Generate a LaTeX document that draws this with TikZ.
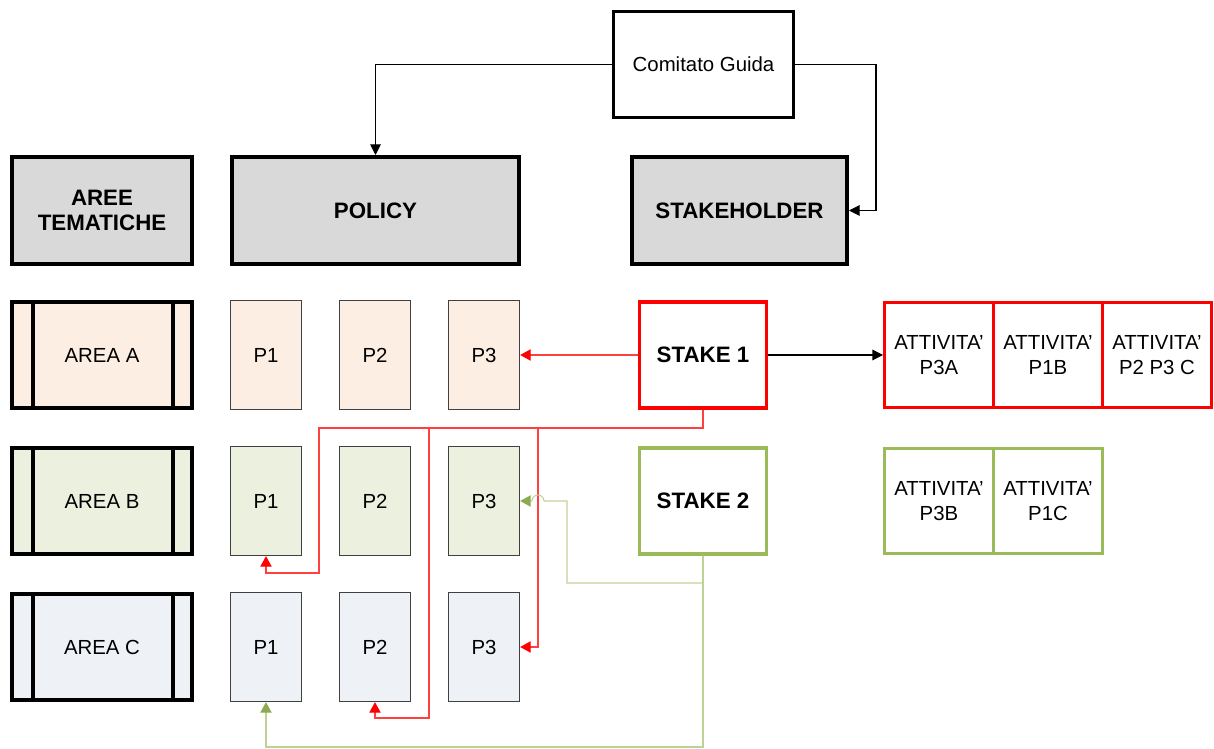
\documentclass[tikz,border=0pt]{standalone}
\usepackage{fontspec}
\setmainfont{Liberation Sans}
\usetikzlibrary{arrows.meta}

\definecolor{headgray}{RGB}{217,217,217}
\definecolor{fillA}{RGB}{253,238,227}
\definecolor{fillB}{RGB}{235,240,223}
\definecolor{fillC}{RGB}{238,242,247}
\definecolor{stakered}{RGB}{255,0,0}
\definecolor{stakegreen}{RGB}{155,187,89}
\definecolor{linegreen}{RGB}{190,210,150}
\definecolor{tipgreen}{RGB}{140,170,80}

\tikzset{
  txt/.style={font=\fontsize{11.6}{14}\selectfont, align=center},
  boldtxt/.style={font=\bfseries\fontsize{12.7}{14.2}\selectfont, align=center},
  headbox/.style={draw, line width=2.3pt, fill=headgray, minimum height=2.14cm, boldtxt},
  areabox/.style={draw, line width=2.3pt, fill=#1, minimum width=3.6cm, minimum height=2.12cm, txt,
    path picture={
      \draw[line width=2.3pt] ([xshift=0.42cm]path picture bounding box.north west) -- ([xshift=0.42cm]path picture bounding box.south west);
      \draw[line width=2.3pt] ([xshift=-0.38cm]path picture bounding box.north east) -- ([xshift=-0.38cm]path picture bounding box.south east);
    }},
  pbox/.style={draw=black!75, line width=0.8pt, fill=#1, minimum width=1.42cm, minimum height=2.18cm, txt},
  stakebox/.style={draw=#1, line width=2pt, fill=white, minimum width=2.54cm, minimum height=2.12cm, boldtxt},
  attbox/.style={draw=#1, line width=1.7pt, minimum width=2.18cm, minimum height=2.12cm, txt},
  blackline/.style={line width=0.6pt, -{Triangle[width=6pt,length=6pt]}},
  redline/.style={line width=0.6pt, draw=red!75, -{Triangle[width=6.5pt,length=6pt,color=stakered]}},
  greenline/.style={line width=0.6pt, draw=linegreen, -{Triangle[width=6.5pt,length=6pt,color=tipgreen]}}
}

\begin{document}
\begin{tikzpicture}[x=0.02cm, y=-0.02cm]
  \useasboundingbox (0,0) rectangle (1214,749);

  % Comitato
  \node[draw, line width=1.7pt, minimum width=3.6cm, minimum height=2.12cm, txt] (comitato) at (703.5,64.5) {Comitato Guida};

  % Headers
  \node[headbox, minimum width=3.6cm] (head-aree) at (102,210.5) {AREE\\TEMATICHE};
  \node[headbox, minimum width=5.74cm] (head-policy) at (375.5,210.5) {POLICY};
  \node[headbox, minimum width=4.3cm] (head-stake) at (739.5,210.5) {STAKEHOLDER};

  % Aree tematiche
  \node[areabox=fillA] (area-a) at (102,355) {AREA A};
  \node[areabox=fillB] (area-b) at (102,501) {AREA B};
  \node[areabox=fillC] (area-c) at (102,647) {AREA C};

  % Policy, area A
  \node[pbox=fillA] (p1-a) at (266,355) {P1};
  \node[pbox=fillA] (p2-a) at (375,355) {P2};
  \node[pbox=fillA] (p3-a) at (484,355) {P3};

  % Policy, area B
  \node[pbox=fillB] (p1-b) at (266,501) {P1};
  \node[pbox=fillB] (p2-b) at (375,501) {P2};
  \node[pbox=fillB] (p3-b) at (484,501) {P3};

  % Policy, area C
  \node[pbox=fillC] (p1-c) at (266,647) {P1};
  \node[pbox=fillC] (p2-c) at (375,647) {P2};
  \node[pbox=fillC] (p3-c) at (484,647) {P3};

  % Stakeholder
  \node[stakebox=stakered] (stake1) at (703,355) {STAKE 1};
  \node[stakebox=stakegreen] (stake2) at (703,501) {STAKE 2};

  % Attivita
  \node[attbox=stakered] (att-p3a) at (939,355) {ATTIVITA'\\P3A};
  \node[attbox=stakered] (att-p1b) at (1048,355) {ATTIVITA'\\P1B};
  \node[attbox=stakered] (att-p2p3c) at (1157,355) {ATTIVITA'\\P2 P3 C};
  \node[attbox=stakegreen] (att-p3b) at (939,501) {ATTIVITA'\\P3B};
  \node[attbox=stakegreen] (att-p1c) at (1048,501) {ATTIVITA'\\P1C};

  % Comitato connectors
  \draw[blackline] (comitato.west) -| (head-policy.north);
  \draw[blackline] (comitato.east) -| (876,210.5) -- (head-stake.east);

  % Stake 1 connectors
  \draw[blackline] (stake1.east) -- (att-p3a.west);
  \draw[redline] (stake1.west) -- (p3-a.east);
  \draw[redline] (stake1.south) |- (319,428) |- (266,573) -- (p1-b.south);
  \draw[redline] (stake1.south) |- (429,428) |- (375,718) -- (p2-c.south);
  \draw[redline] (stake1.south) |- (538,428) |- (p3-c.east);

  % Stake 2 connectors
  \draw[greenline] (stake2.south) |- (567,583) |- (544,501) arc[start angle=0, end angle=180, radius=0.12cm] -- (p3-b.east);
  \draw[greenline] (stake2.south) |- (266,747) -- (p1-c.south);

\end{tikzpicture}
\end{document}
